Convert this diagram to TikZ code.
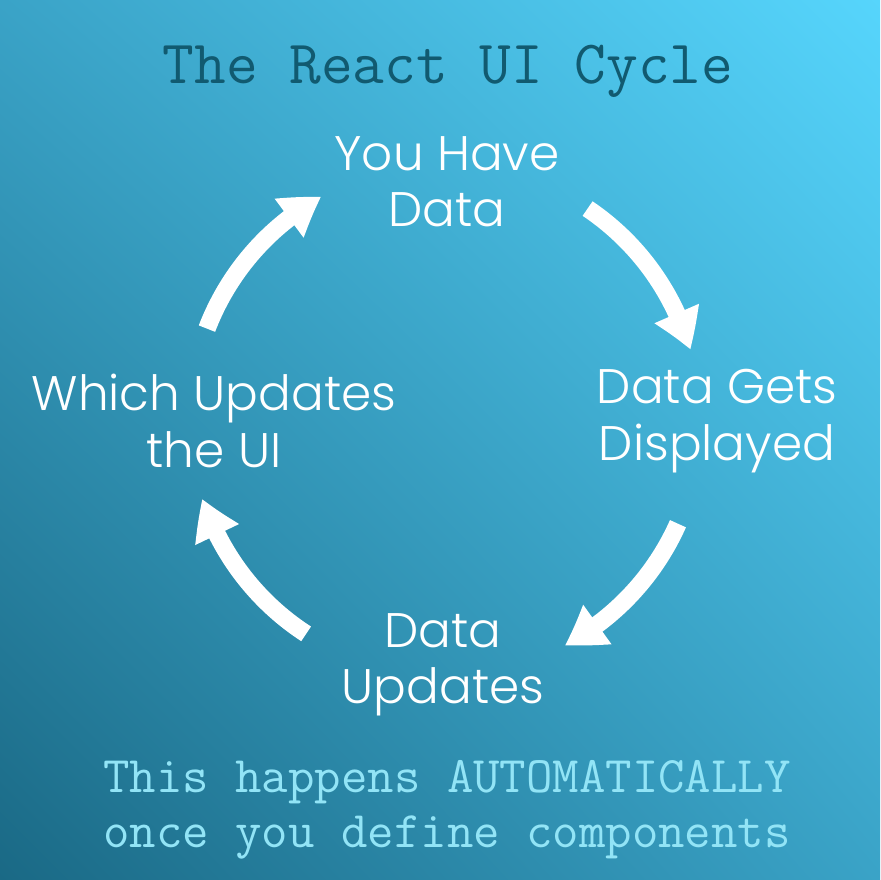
\documentclass[tikz,border=0pt]{standalone}
\usepackage{fontspec}
\setmainfont{Poppins}[UprightFont=* Light]
\usetikzlibrary{arrows.meta,bending,shadings}

\definecolor{bgdark}{HTML}{1A6985}
\definecolor{bglight}{HTML}{56D5FC}
\definecolor{bgmid}{HTML}{3AA3C7}
\definecolor{titleblue}{HTML}{115A70}
\definecolor{notecyan}{HTML}{92E4F6}

\tikzset{
  stage/.style={text=white, align=center, font=\fontsize{13.8}{16}\selectfont},
  cyclearrow/.style={draw=white, line width=5pt, -{Triangle[width=13pt,length=11pt,bend]}}
}

\begin{document}
\begin{tikzpicture}[x=0.01cm, y=-0.01cm]
  \shade[lower left=bgdark, upper right=bglight, upper left=bgmid, lower right=bgmid] (0, 880) rectangle (880, 0);
  \useasboundingbox (0, 0) rectangle (880, 880);

  \node[text=titleblue, font=\ttfamily\fontsize{17.5}{20}\selectfont] (title) at (448, 71) {The React UI Cycle};

  \node[stage] (data) at (447, 182) {You Have\\Data};
  \node[stage] (shown) at (717, 421) {Data Gets\\Displayed};
  \node[stage] (update) at (443, 665) {Data\\Updates};
  \node[stage] (ui) at (214, 421) {Which Updates\\the UI};

  \node[text=notecyan, align=center, font=\ttfamily\fontsize{14.6}{15.6}\selectfont] (note) at (447, 810) {This happens AUTOMATICALLY\\once you define components};

  \coordinate (c) at (445, 420);
  \draw[cyclearrow] (c) ++(-56:255) arc[start angle=-56, end angle=-16, radius=255];
  \draw[cyclearrow] (c) ++(24:255) arc[start angle=24, end angle=62, radius=255];
  \draw[cyclearrow] (c) ++(123:255) arc[start angle=123, end angle=162, radius=255];
  \draw[cyclearrow] (c) ++(-159:255) arc[start angle=-159, end angle=-119, radius=255];
\end{tikzpicture}
\end{document}
